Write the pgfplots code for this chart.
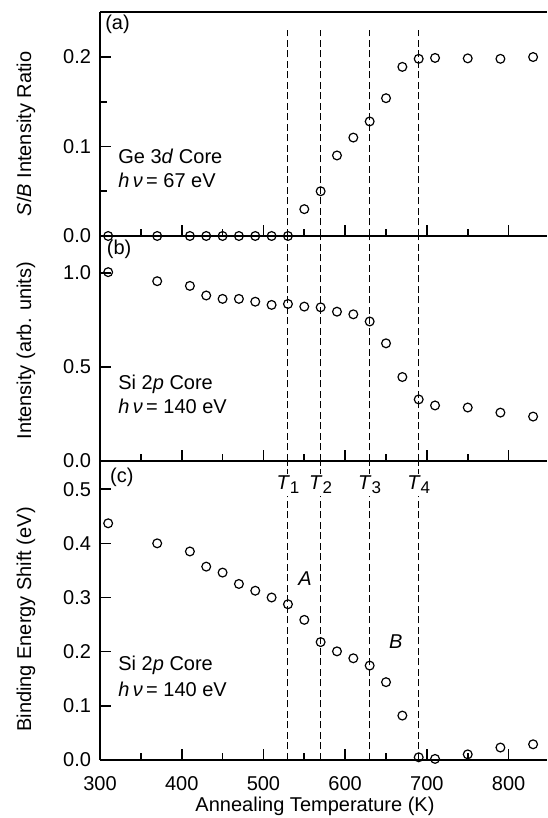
\documentclass[border=0pt]{standalone}
\usepackage{fontspec}
\setmainfont{Liberation Sans}
\usepackage{pgfplots}
\pgfplotsset{compat=1.18}
\pgfplotstableread{
T y
310 0
370 0
410 0
430 0
450 0
470 0
490 0
510 0
530 0
550 0.030
570 0.050
590 0.090
610 0.110
630 0.128
650 0.154
670 0.189
690 0.198
710 0.199
750 0.1985
790 0.198
830 0.200
}\dataA
\pgfplotstableread{
T y
310 1.003
370 0.955
410 0.930
430 0.879
450 0.861
470 0.861
490 0.846
510 0.829
530 0.834
550 0.820
570 0.816
590 0.793
610 0.779
630 0.741
650 0.625
670 0.446
690 0.327
710 0.295
750 0.284
790 0.257
830 0.236
}\dataB
\pgfplotstableread{
T y
310 0.437
370 0.400
410 0.385
430 0.357
450 0.346
470 0.325
490 0.3125
510 0.300
530 0.2875
550 0.2587
570 0.2177
590 0.2006
610 0.1878
630 0.1743
650 0.1437
670 0.082
690 0.005
710 0.002
750 0.0104
790 0.023
830 0.029
}\dataC
\tikzset{txt/.style={font=\fontsize{10}{12}\selectfont}}
\pgfplotsset{
  panel/.style={
    scale only axis, width=223.5pt,
    xmin=300, xmax=847,
    axis x line*=bottom, axis y line*=left,
    axis line style={line width=1pt},
    tick align=inside,
    major tick length=5.5pt, minor tick length=3.5pt,
    tick style={black, line width=0.8pt},
    xtick={300,400,...,800},
    clip=false,
    /pgf/number format/assume math mode=true,
    tick label style={font=\fontsize{10}{12}\selectfont},
    label style={font=\fontsize{10}{12}\selectfont},
    yticklabel style={xshift=-1pt, /pgf/number format/.cd, fixed, fixed zerofill, precision=1},
    ylabel style={anchor=center},
  },
  pts/.style={only marks, mark=o, mark size=2.2pt, mark options={line width=0.6pt, fill=white, draw=black}},
  tline/.style={black, line width=0.5pt, dash pattern=on 3.5pt off 1.75pt},
}
\newcommand{\xticksmanual}{%
  \pgfplotsinvokeforeach{400,500,600,700,800}{\draw[black, line width=0.8pt] (axis cs:##1,0) -- ++(0pt,5.5pt);}%
  \pgfplotsinvokeforeach{350,450,550,650,750}{\draw[black, line width=0.8pt] (axis cs:##1,0) -- ++(0pt,3.5pt);}%
}
\newcommand{\hnu}{\textit{h\,ν}\,=}
\newcommand{\Tl}[1]{\textit{T}{\fontsize{8.5}{9}\selectfont\raisebox{-0.4ex}{#1}}}
\begin{document}
\begin{tikzpicture}
% panel (a)
\begin{axis}[panel, at={(50pt,291pt)}, anchor=south west, height=111.85pt,
  ymin=0, ymax=0.25, ytick={0,0.1,0.2},
  xticklabel=\empty,
  ylabel={\textit{S}/\textit{B} Intensity Ratio},
  ylabel style={at={(axis description cs:-0.1655,0.456)}}]
\addplot[pts] table[x=T,y=y] {\dataA};
\addplot[tline] coordinates {(530,0) (530,0.2306)};
\addplot[tline] coordinates {(570,0) (570,0.2306)};
\addplot[tline] coordinates {(630,0) (630,0.2306)};
\addplot[tline] coordinates {(690,0) (690,0.2306)};
\xticksmanual
\pgfplotsinvokeforeach{0.05,0.1,0.15,0.2}{\draw[black, line width=0.8pt] (axis cs:300,#1) -- ++(3.5pt,0pt);}
\draw[line width=1pt] (axis description cs:0,1) -- (axis description cs:1,1);
\node[txt, anchor=west, inner sep=0pt] at (axis cs:306,0.237) {(a)};
\node[txt, anchor=west, inner sep=0pt] at (axis cs:322,0.0885) {Ge 3\textit{d} Core};
\node[txt, anchor=west, inner sep=0pt] at (axis cs:322,0.0625) {\hnu\ 67 eV};
\end{axis}
% panel (b)
\begin{axis}[panel, at={(50pt,178.5pt)}, anchor=south west, height=112.5pt,
  ymin=0, ymax=1.195, ytick={0,0.5,1.0},
  xticklabel=\empty,
  ylabel={Intensity (arb. units)},
  ylabel style={at={(axis description cs:-0.1655,0.49)}}]
\addplot[pts] table[x=T,y=y] {\dataB};
\addplot[tline] coordinates {(530,0) (530,1.195)};
\addplot[tline] coordinates {(570,0) (570,1.195)};
\addplot[tline] coordinates {(630,0) (630,1.195)};
\addplot[tline] coordinates {(690,0) (690,1.195)};
\xticksmanual
\pgfplotsinvokeforeach{0.5,1.0}{\draw[black, line width=0.8pt] (axis cs:300,#1) -- ++(3.5pt,0pt);}
\node[txt, anchor=west, inner sep=0pt] at (axis cs:308,1.126) {(b)};
\node[txt, anchor=west, inner sep=0pt] at (axis cs:322,0.409) {Si 2\textit{p} Core};
\node[txt, anchor=west, inner sep=0pt] at (axis cs:322,0.288) {\hnu\ 140 eV};
\end{axis}
% panel (c)
\begin{axis}[panel, at={(50pt,29pt)}, anchor=south west, height=149.5pt,
  ymin=0, ymax=0.552, ytick={0,0.1,...,0.5},
  xticklabel style={yshift=-4.5pt},
  xlabel={Annealing Temperature (K)},
  xlabel style={at={(axis description cs:0.481,-0.156)}, anchor=center},
  ylabel={Binding Energy Shift (eV)},
  ylabel style={at={(axis description cs:-0.1655,0.47)}}]
\addplot[pts] table[x=T,y=y] {\dataC};
\addplot[tline] coordinates {(530,0) (530,0.552)};
\addplot[tline] coordinates {(570,0) (570,0.552)};
\addplot[tline] coordinates {(630,0) (630,0.552)};
\addplot[tline] coordinates {(690,0) (690,0.552)};
\xticksmanual
\pgfplotsinvokeforeach{0.1,0.2,0.3,0.4,0.5}{\draw[black, line width=0.8pt] (axis cs:300,#1) -- ++(3.5pt,0pt);}
\node[txt, fill=white, inner sep=1pt] at (axis cs:530,0.508) {\Tl{1}};
\node[txt, fill=white, inner sep=1pt] at (axis cs:570,0.508) {\Tl{2}};
\node[txt, fill=white, inner sep=1pt] at (axis cs:630,0.508) {\Tl{3}};
\node[txt, fill=white, inner sep=1pt] at (axis cs:690,0.508) {\Tl{4}};
\node[txt, anchor=west, inner sep=0pt] at (axis cs:312,0.521) {(c)};
\node[txt] at (axis cs:551,0.335) {\textit{A}};
\node[txt] at (axis cs:662,0.218) {\textit{B}};
\node[txt, anchor=west, inner sep=0pt] at (axis cs:322,0.175) {Si 2\textit{p} Core};
\node[txt, anchor=west, inner sep=0pt] at (axis cs:322,0.13) {\hnu\ 140 eV};
\end{axis}
\pgfresetboundingbox
\path[use as bounding box] (0,0) rectangle (273.5pt,409pt);
\end{tikzpicture}
\end{document}
